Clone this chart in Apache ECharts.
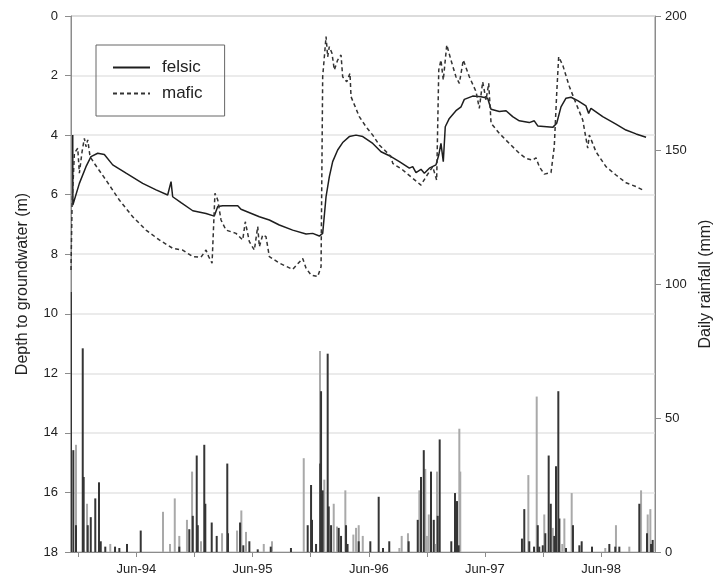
<!DOCTYPE html>
<html>
<head>
<meta charset="utf-8">
<script src="https://cdn.jsdelivr.net/npm/echarts@6/dist/echarts.min.js"></script>
<style>
html, body { margin: 0; padding: 0; background: #fff; }
#chart { width: 714px; height: 581px; }
</style>
</head>
<body>
<div id="chart"></div>
<script>
// time is in decimal years, depth in m, rainfall in mm
var felsic = [
    [1993.867, 4.00], [1993.868, 6.35], [1993.881, 6.30], [1993.924, 5.62], [1993.981, 5.06],
    [1994.024, 4.72], [1994.082, 4.61], [1994.139, 4.65], [1994.211, 5.00], [1994.326, 5.28],
    [1994.469, 5.62], [1994.584, 5.84], [1994.684, 6.01], [1994.713, 5.56], [1994.727, 6.07],
    [1994.799, 6.27], [1994.900, 6.54], [1995.014, 6.63], [1995.085, 6.72], [1995.115, 6.40],
    [1995.158, 6.37], [1995.287, 6.37], [1995.315, 6.49], [1995.473, 6.74], [1995.559, 6.85],
    [1995.645, 7.02], [1995.760, 7.19], [1995.875, 7.32], [1995.932, 7.30], [1995.989, 7.39],
    [1996.018, 7.30], [1996.047, 6.07], [1996.075, 5.40], [1996.104, 4.89], [1996.147, 4.50],
    [1996.190, 4.25], [1996.247, 4.05], [1996.305, 4.00], [1996.363, 4.05], [1996.449, 4.28],
    [1996.520, 4.56], [1996.606, 4.72], [1996.678, 4.89], [1996.764, 5.11], [1996.793, 5.06],
    [1996.821, 5.26], [1996.864, 5.15], [1996.893, 5.28], [1996.936, 5.11], [1996.993, 5.00],
    [1997.017, 4.67], [1997.036, 4.28], [1997.056, 4.89], [1997.073, 3.72], [1997.108, 3.44],
    [1997.165, 3.18], [1997.209, 3.05], [1997.237, 2.80], [1997.309, 2.69], [1997.381, 2.71],
    [1997.438, 2.76], [1997.467, 3.13], [1997.538, 3.21], [1997.596, 3.18], [1997.653, 3.38],
    [1997.710, 3.52], [1997.796, 3.58], [1997.839, 3.52], [1997.869, 3.69], [1997.998, 3.74],
    [1998.032, 3.60], [1998.069, 3.05], [1998.112, 2.76], [1998.155, 2.73], [1998.213, 2.84],
    [1998.284, 3.02], [1998.307, 3.27], [1998.327, 3.10], [1998.428, 3.38], [1998.542, 3.63],
    [1998.628, 3.83], [1998.715, 3.96], [1998.801, 4.07]
]

var mafic = [
    [1993.852, 8.53], [1993.861, 6.40], [1993.881, 4.61], [1993.910, 4.44], [1993.924, 5.28],
    [1993.947, 4.56], [1993.967, 4.11], [1993.981, 4.39], [1993.996, 4.16], [1994.016, 4.72],
    [1994.053, 4.95], [1994.153, 5.51], [1994.268, 6.18], [1994.383, 6.74], [1994.498, 7.19],
    [1994.612, 7.52], [1994.727, 7.80], [1994.813, 7.86], [1994.900, 8.08], [1994.971, 8.10],
    [1995.014, 7.86], [1995.037, 8.08], [1995.066, 8.30], [1995.091, 5.95], [1995.115, 6.18],
    [1995.143, 6.85], [1995.186, 7.19], [1995.272, 7.30], [1995.330, 7.52], [1995.352, 6.91],
    [1995.387, 7.58], [1995.430, 7.86], [1995.459, 7.07], [1995.473, 7.75], [1995.502, 7.35],
    [1995.530, 7.41], [1995.559, 8.08], [1995.645, 8.30], [1995.760, 8.51], [1995.846, 8.14],
    [1995.875, 8.47], [1995.918, 8.70], [1995.975, 8.75], [1996.004, 8.42], [1996.018, 2.04],
    [1996.047, 0.69], [1996.061, 1.37], [1996.075, 1.03], [1996.098, 1.25], [1996.118, 1.81],
    [1996.147, 1.48], [1996.176, 1.31], [1996.190, 2.04], [1996.225, 2.21], [1996.253, 1.92],
    [1996.262, 2.71], [1996.333, 3.38], [1996.391, 3.72], [1996.449, 4.00], [1996.505, 4.33],
    [1996.606, 4.72], [1996.621, 4.95], [1996.707, 5.17], [1996.793, 5.45], [1996.864, 5.68],
    [1996.907, 5.40], [1996.965, 5.06], [1996.999, 5.51], [1997.017, 1.81], [1997.036, 1.48],
    [1997.056, 2.15], [1997.086, 0.97], [1997.122, 1.48], [1997.165, 2.04], [1997.194, 2.26],
    [1997.228, 1.48], [1997.280, 2.04], [1997.338, 2.54], [1997.366, 3.10], [1997.395, 2.21],
    [1997.424, 2.82], [1997.447, 2.26], [1997.467, 3.60], [1997.538, 3.94], [1997.624, 4.28],
    [1997.710, 4.61], [1997.768, 4.78], [1997.826, 4.84], [1997.854, 4.76], [1997.882, 5.06],
    [1997.925, 5.31], [1997.983, 5.26], [1998.011, 4.39], [1998.032, 2.60], [1998.049, 1.37],
    [1998.084, 1.65], [1998.141, 2.37], [1998.198, 2.93], [1998.256, 3.49], [1998.299, 4.44],
    [1998.313, 4.00], [1998.370, 4.56], [1998.456, 5.06], [1998.542, 5.34], [1998.628, 5.60],
    [1998.715, 5.73], [1998.786, 5.87]
]

var rainDark = [
    [1993.852, 97], [1993.872, 38], [1993.895, 10], [1993.953, 76], [1993.961, 28],
    [1993.996, 10], [1994.022, 13], [1994.061, 20], [1994.093, 26], [1994.108, 4],
    [1994.147, 2], [1994.231, 2], [1994.268, 1.5], [1994.334, 3], [1994.452, 8],
    [1994.784, 2], [1994.870, 8.5], [1994.900, 13.5], [1994.934, 36], [1994.943, 10],
    [1994.999, 40], [1995.008, 18], [1995.063, 11], [1995.106, 6], [1995.197, 33],
    [1995.203, 7], [1995.307, 11], [1995.335, 2.5], [1995.387, 4], [1995.459, 1],
    [1995.571, 2], [1995.745, 1.5], [1995.889, 10], [1995.918, 25], [1995.926, 12],
    [1995.961, 3], [1995.997, 33], [1996.004, 60], [1996.018, 23], [1996.061, 74],
    [1996.070, 17], [1996.090, 10], [1996.156, 9], [1996.176, 6], [1996.219, 10],
    [1996.232, 3], [1996.328, 4], [1996.428, 4], [1996.500, 20.6], [1996.537, 1.5],
    [1996.591, 4], [1996.758, 4], [1996.836, 12], [1996.864, 28], [1996.888, 38],
    [1996.950, 30], [1996.974, 12], [1997.008, 13.5], [1997.025, 42], [1997.125, 4],
    [1997.157, 22], [1997.174, 19], [1997.188, 2.5], [1997.733, 5], [1997.753, 16],
    [1997.796, 4], [1997.837, 2], [1997.869, 10], [1997.882, 2], [1997.912, 2.5],
    [1997.934, 7], [1997.963, 36], [1997.981, 18], [1998.011, 6], [1998.026, 32],
    [1998.046, 60], [1998.055, 12.5], [1998.112, 1.5], [1998.172, 10], [1998.227, 2.5],
    [1998.247, 4], [1998.336, 2], [1998.485, 3], [1998.536, 2], [1998.571, 2],
    [1998.743, 18], [1998.809, 7], [1998.844, 3], [1998.858, 4.5]
]

var rainLight = [
    [1993.895, 40], [1993.990, 18], [1994.190, 3], [1994.644, 15], [1994.704, 3],
    [1994.745, 20], [1994.784, 6], [1994.850, 12], [1994.894, 30], [1994.971, 4],
    [1995.152, 7], [1995.281, 8], [1995.318, 15.5], [1995.358, 7.5], [1995.511, 3],
    [1995.582, 4], [1995.855, 35], [1995.995, 75], [1996.032, 27], [1996.113, 18],
    [1996.141, 9.5], [1996.213, 23], [1996.282, 6.5], [1996.305, 9], [1996.328, 10],
    [1996.363, 6], [1996.678, 1.5], [1996.698, 6], [1996.752, 7], [1996.850, 23],
    [1996.901, 31], [1996.915, 6], [1996.931, 14], [1996.993, 3], [1997.002, 30],
    [1997.194, 46], [1997.202, 30], [1997.788, 28.7], [1997.860, 58], [1997.925, 14],
    [1997.998, 9], [1998.080, 3], [1998.098, 12.5], [1998.161, 22], [1998.450, 1.5],
    [1998.542, 10], [1998.657, 2], [1998.758, 23], [1998.815, 14], [1998.838, 16]
]

// tick marks every six months (1 Dec / 1 Jun), labels on the June ones
var tickYears = [1993.915, 1994.414, 1994.915, 1995.414, 1995.915, 1996.415, 1996.915, 1997.414, 1997.915, 1998.414]
var labelYears = [1994.414, 1995.414, 1996.415, 1997.414, 1998.414]
var tickLabels = ['Jun-94', 'Jun-95', 'Jun-96', 'Jun-97', 'Jun-98']

var xMin = 1993.852
var xMax = 1998.878

var fontFamily = '"Liberation Sans", Arial, sans-serif'
var axisGrey = '#8c8c8c'

var chart = echarts.init(document.getElementById('chart'))

chart.setOption({
    animation: false,
    textStyle: { fontFamily: fontFamily },
    grid: {
        left: 71,
        right: 59,
        top: 16,
        bottom: 29,
        outerBoundsMode: 'none',
        show: true,
        borderColor: axisGrey,
        borderWidth: 1
    },
    legend: {
        data: ['felsic', 'mafic'],
        orient: 'vertical',
        left: 96,
        top: 45,
        padding: [14, 22, 14, 16],
        itemWidth: 37,
        itemHeight: 14,
        itemGap: 9,
        borderColor: '#666',
        borderWidth: 1,
        itemStyle: { opacity: 0 },
        textStyle: {
            fontSize: 17,
            color: '#222',
            fontFamily: fontFamily,
            padding: [0, 0, 0, 7]
        }
    },
    xAxis: {
        type: 'value',
        min: xMin,
        max: xMax,
        position: 'bottom',
        splitLine: { show: false },
        // depth axis is inverted, keep the time axis at the bottom
        axisLine: { onZero: false, lineStyle: { color: axisGrey } },
        axisTick: {
            customValues: tickYears,
            length: 5,
            lineStyle: { color: axisGrey }
        },
        axisLabel: {
            customValues: labelYears,
            formatter: function (v) {
                var i = labelYears.indexOf(v)
                return i >= 0 ? tickLabels[i] : ''
            },
            fontSize: 13,
            color: '#222',
            margin: 11
        }
    },
    yAxis: [{
        type: 'value',
        inverse: true,
        min: 0,
        max: 18,
        interval: 2,
        name: 'Depth to groundwater (m)',
        nameLocation: 'middle',
        nameGap: 40,
        nameRotate: 90,
        nameTextStyle: { fontSize: 16, color: '#222' },
        axisLine: { show: true, lineStyle: { color: axisGrey } },
        axisTick: { show: true, length: 6, lineStyle: { color: axisGrey } },
        axisLabel: { fontSize: 13, color: '#222', margin: 13 },
        splitLine: { lineStyle: { color: '#e4e4e4', width: 1.5 } }
    }, {
        type: 'value',
        position: 'right',
        min: 0,
        max: 200,
        interval: 50,
        name: 'Daily rainfall (mm)',
        nameLocation: 'middle',
        nameGap: 43,
        nameRotate: 90,
        nameTextStyle: { fontSize: 16, color: '#222' },
        axisLine: { show: true, lineStyle: { color: axisGrey } },
        axisTick: { show: true, length: 6, lineStyle: { color: axisGrey } },
        axisLabel: { fontSize: 13, color: '#222', margin: 10 },
        splitLine: { show: false }
    }],
    series: [{
        name: 'rain light',
        type: 'bar',
        yAxisIndex: 1,
        barWidth: 2,
        itemStyle: { color: '#a9a9a9' },
        data: rainLight
    }, {
        name: 'rain dark',
        type: 'bar',
        yAxisIndex: 1,
        barWidth: 2,
        barGap: '-100%',
        itemStyle: { color: '#353535' },
        data: rainDark
    }, {
        name: 'felsic',
        type: 'line',
        symbol: 'none',
        lineStyle: { color: '#1e1e1e', width: 1.5 },
        itemStyle: { color: '#1e1e1e' },
        data: felsic
    }, {
        name: 'mafic',
        type: 'line',
        symbol: 'none',
        lineStyle: { color: '#333', width: 1.5, type: [4, 3] },
        itemStyle: { color: '#333' },
        data: mafic
    }]
})
</script>
</body>
</html>
